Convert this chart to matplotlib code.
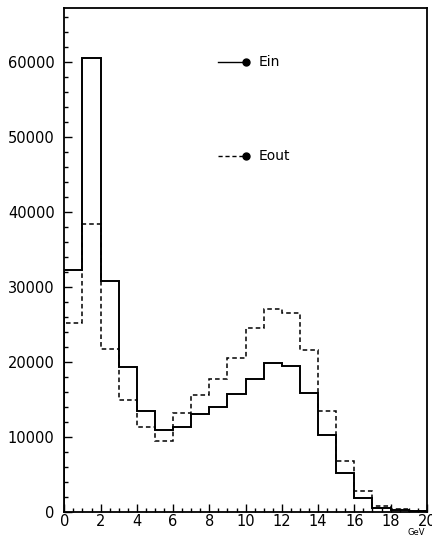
import numpy as np
import matplotlib.pyplot as plt
from matplotlib.ticker import MultipleLocator

# energy bins (GeV), 1 GeV wide
bin_edges = np.arange(0, 21, 1)

e_in = [32300, 60600, 30800, 19300, 13450, 10850, 11350, 13050, 13950, 15700,
        17750, 19900, 19500, 15800, 10250, 5200, 1800, 550, 250, 60]
e_out = [25200, 38400, 21750, 14900, 11350, 9450, 13150, 15600, 17700, 20550,
         24550, 27100, 26500, 21600, 13500, 6800, 2750, 800, 350, 80]

plt.rcParams['font.family'] = 'DejaVu Sans'

fig = plt.figure(figsize=(4.32, 5.37), dpi=100)
ax = fig.add_axes([0.149, 0.047, 0.839, 0.9375])

ax.stairs(e_in, bin_edges, color='black', linewidth=1.4)
ax.stairs(e_out, bin_edges, color='black', linewidth=1.1, linestyle=(0, (3, 2)))

ax.set_xlim(0, 20)
ax.set_ylim(0, 67200)

ax.xaxis.set_major_locator(MultipleLocator(2))
ax.xaxis.set_minor_locator(MultipleLocator(0.5))
ax.yaxis.set_major_locator(MultipleLocator(10000))
ax.yaxis.set_minor_locator(MultipleLocator(2000))
ax.tick_params(which='both', direction='in', top=False, right=False,
               labelsize=10.5, width=1)
ax.tick_params(which='major', length=6)
ax.tick_params(which='minor', length=3)
ax.tick_params(axis='x', pad=1.5)
ax.tick_params(axis='y', pad=7)
for sp in ax.spines.values():
    sp.set_linewidth(1.3)

# legend drawn by hand: short line ending in a dot, then the label
ax.plot([0.424, 0.501], [0.893, 0.893], transform=ax.transAxes,
        color='black', linewidth=1.0, clip_on=False)
ax.plot([0.501], [0.893], 'o', transform=ax.transAxes, color='black', markersize=5)
ax.text(0.537, 0.893, 'Ein', transform=ax.transAxes, va='center', fontsize=10)

ax.plot([0.424, 0.501], [0.7066, 0.7066], transform=ax.transAxes,
        color='black', linewidth=1.0, linestyle=(0, (3, 2)))
ax.plot([0.501], [0.7066], 'o', transform=ax.transAxes, color='black', markersize=5)
ax.text(0.537, 0.7066, 'Eout', transform=ax.transAxes, va='center', fontsize=10)

fig.text(0.963, 0.0, 'GeV', fontsize=6, ha='center', va='bottom')

fig.savefig('out.png', dpi=100)
